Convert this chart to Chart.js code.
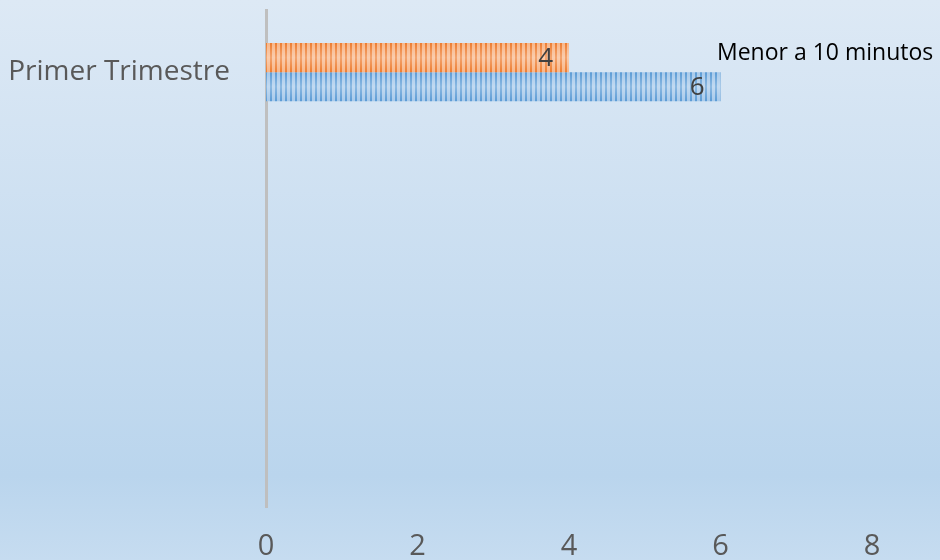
<!DOCTYPE html>
<html>
<head>
<meta charset="utf-8">
<script src="https://cdn.jsdelivr.net/npm/chart.js@4"></script>
<style>
  html, body { margin: 0; padding: 0; }
  body { width: 940px; height: 560px; overflow: hidden; }
  #wrap { width: 940px; height: 560px; }
</style>
</head>
<body>
<div id="wrap"><canvas id="trimChart" width="940" height="560"></canvas></div>
<script>
// data
const categories = ['Primer Trimestre', '', '', ''];
const seriesNames = ['Serie 1', 'Menor a 10 minutos'];
const orangeValues = [4, null, null, null];
const blueValues = [6, null, null, null];
const xTicks = [0, 2, 4, 6, 8];

// striped fill
function stripes(base, light) {
  const c = document.createElement('canvas');
  c.width = 5; c.height = 10;
  const g = c.getContext('2d');
  g.fillStyle = light;
  g.fillRect(0, 0, 5, 10);
  g.fillStyle = base;
  g.fillRect(0, 0, 2, 10);
  return g.createPattern(c, 'repeat');
}

// background gradient of whole canvas
const bgPlugin = {
  id: 'bg',
  beforeDraw(chart) {
    const ctx = chart.ctx;
    const grd = ctx.createLinearGradient(0, 0, 0, chart.height);
    grd.addColorStop(0, '#dde9f5');
    grd.addColorStop(0.85, '#bad5ed');
    grd.addColorStop(1, '#c6dcf0');
    ctx.save();
    ctx.fillStyle = grd;
    ctx.fillRect(0, 0, chart.width, chart.height);
    ctx.restore();
  }
};

// shine on bars + value labels + series text
const barExtras = {
  id: 'barExtras',
  afterDatasetsDraw(chart) {
    const ctx = chart.ctx;
    ctx.save();
    chart.data.datasets.forEach((ds, i) => {
      chart.getDatasetMeta(i).data.forEach((bar, j) => {
        const v = ds.data[j];
        if (v === null) return;
        const top = bar.y - bar.height / 2;
        const shine = ctx.createLinearGradient(0, top, 0, top + bar.height);
        shine.addColorStop(0, 'rgba(255,255,255,0)');
        shine.addColorStop(0.5, 'rgba(255,255,255,0.3)');
        shine.addColorStop(1, 'rgba(255,255,255,0)');
        ctx.fillStyle = shine;
        ctx.fillRect(bar.base, top, bar.x - bar.base, bar.height);
        ctx.font = '26px "Open Sans"';
        ctx.fillStyle = '#404040';
        ctx.textAlign = 'right';
        ctx.textBaseline = 'middle';
        ctx.fillText(String(v), bar.x - 16, bar.y + 1);
      });
    });
    ctx.font = '23px "Open Sans"';
    ctx.fillStyle = '#000000';
    ctx.textAlign = 'left';
    ctx.textBaseline = 'middle';
    ctx.fillText(seriesNames[1], 717, 53);
    ctx.restore();
  }
};

new Chart(document.getElementById('trimChart').getContext('2d'), {
  type: 'bar',
  plugins: [bgPlugin, barExtras],
  data: {
    labels: categories,
    datasets: [{
      label: seriesNames[0],
      data: orangeValues,
      backgroundColor: stripes('#ed7d31', '#f8b78a'),
      borderWidth: 0,
      barPercentage: 1,
      categoryPercentage: 0.47
    }, {
      label: seriesNames[1],
      data: blueValues,
      backgroundColor: stripes('#5b9bd5', '#a8caeb'),
      borderWidth: 0,
      barPercentage: 1,
      categoryPercentage: 0.47
    }]
  },
  options: {
    indexAxis: 'y',
    responsive: false,
    animation: false,
    events: [],
    layout: { padding: { top: 10, right: 68, left: 0, bottom: 0 } },
    plugins: {
      legend: { display: false },
      tooltip: { enabled: false }
    },
    scales: {
      x: {
        min: 0,
        max: 8,
        afterBuildTicks: (scale) => { scale.ticks = xTicks.map(v => ({ value: v })); },
        afterFit: (scale) => { scale.height = 53; },
        grid: { display: false, drawTicks: false },
        border: { display: false },
        ticks: {
          color: '#595959',
          font: { family: 'Open Sans', size: 29 },
          padding: 22,
          maxRotation: 0
        }
      },
      y: {
        afterFit: (scale) => {
          scale.width = 266;
          scale.paddingTop = 0;
          scale.paddingBottom = 0;
        },
        grid: { display: false, drawTicks: false },
        border: { display: true, color: '#bfbfbf', width: 3 },
        ticks: {
          color: '#595959',
          font: { family: 'Open Sans', size: 28 },
          padding: 36
        }
      }
    }
  }
});
</script>
</body>
</html>
